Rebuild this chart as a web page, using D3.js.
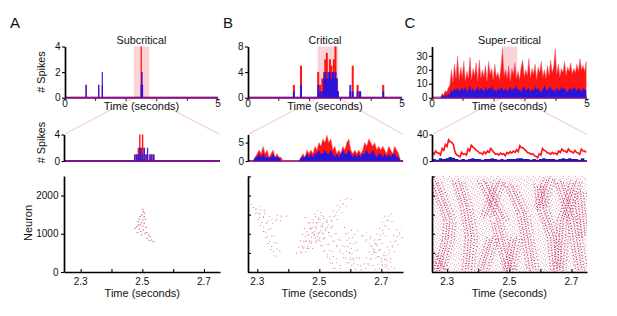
<!DOCTYPE html>
<html>
<head>
<meta charset="utf-8">
<script src="https://cdn.jsdelivr.net/npm/d3@7/dist/d3.min.js"></script>
<style>
  body { margin: 0; background: #fff; }
  svg text { font-family: "Liberation Sans", Arial, sans-serif; fill: #111; }
</style>
</head>
<body>
<script>
// ---- values ----
const panelLetters = ['A', 'B', 'C'];
const panelTitles = ['Subcritical', 'Critical', 'Super-critical'];

// time windows (seconds)
const fullWindow = [0, 5];
const zoomWindows = [[2.246, 2.752], [2.27, 2.77], [2.251, 2.75]];
const highlightWindows = [[2.25, 2.75], [2.26, 2.93], [2.25, 2.75]];

// axis ranges and ticks
const topMax = [4, 8, 36.7];
const topTicks = [[0, 2, 4], [0, 4, 8], [0, 10, 20, 30]];
const midMax = [4, 7.2, 40];
const midTicks = [[0, 4], [0, 5], [0, 40]];
const neuronMax = 2510;
const neuronLabelTicks = [0, 1000, 2000];
const neuronTicks = [0, 500, 1000, 1500, 2000, 2500];
const fullTimeTicks = [0, 1, 2, 3, 4, 5];
const fullTimeLabels = [0, 5];
const zoomTimeTicks = [2.3, 2.4, 2.5, 2.6, 2.7];
const zoomTimeLabels = [2.3, 2.5, 2.7];

// A, whole run: spike counts (excitatory red, inhibitory blue)
const aTopTime = [0.69, 1.10, 1.22, 2.49, 2.51, 2.53];
const aTopExc = [1, 1, 1, 4, 2, 1];
const aTopInh = [1, 1, 2, 1, 2, 1];

// B, whole run
const bTopTime = [1.49, 1.72, 2.28, 2.34, 2.41, 2.47, 2.51, 2.56, 2.61, 2.66, 2.71, 2.76, 2.79, 2.84, 2.88, 2.92, 3.32, 3.40, 3.56, 3.64, 4.39];
const bTopExc = [2, 5, 4, 2, 3, 4, 6, 7, 3, 6, 5, 4, 6, 8, 3, 1, 1, 5, 2, 1, 2];
const bTopInh = [1, 2, 2, 1, 1, 3, 4, 3, 4, 4, 3, 4, 3, 4, 3, 1, 2, 1, 1, 1, 1];

// C, whole run, 0.05 s bins from 0
const cTopStart = 0, cTopStep = 0.05;
const cTopExc = [
  0, 0, 0, 0, 0, 0, 3, 2, 5, 4,
  7, 9, 20, 11, 24, 14, 30, 13, 22, 15,
  26, 12, 19, 14, 29, 13, 21, 16, 25, 12,
  27, 14, 20, 15, 23, 12, 26, 17, 21, 13,
  24, 15, 18, 13, 22, 35, 16, 20, 14, 23,
  12, 21, 17, 25, 14, 19, 13, 22, 27, 15,
  20, 16, 28, 14, 21, 17, 24, 13, 22, 18,
  26, 15, 20, 14, 23, 16, 27, 18, 22, 35,
  17, 24, 15, 21, 18, 26, 16, 22, 19, 25,
  17, 21, 18, 24, 19, 28, 20, 23, 19, 26
];
const cTopInh = [
  0, 0, 0, 0, 0, 0, 2, 1, 2, 1,
  3, 2, 6, 4, 7, 5, 8, 4, 6, 7,
  5, 8, 4, 6, 9, 5, 7, 4, 6, 8,
  5, 7, 6, 4, 8, 5, 7, 6, 9, 5,
  6, 4, 7, 5, 8, 6, 5, 7, 4, 6,
  8, 5, 7, 6, 9, 5, 6, 4, 7, 8,
  5, 6, 7, 4, 6, 5, 8, 6, 7, 5,
  4, 6, 9, 6, 5, 7, 8, 5, 6, 4,
  7, 6, 5, 8, 6, 7, 5, 4, 6, 7,
  5, 8, 6, 5, 7, 6, 4, 7, 6, 5
];

// A, zoomed window
const aMidTime = [2.476, 2.482, 2.487, 2.492, 2.496, 2.501, 2.506, 2.512, 2.517, 2.525, 2.531, 2.537];
const aMidExc = [1, 1, 2, 4, 2, 4, 2, 1, 1, 1, 1, 1];
const aMidInh = [1, 1, 1, 2, 2, 1, 2, 1, 2, 1, 1, 1];

// B, zoomed window, fine bins
const bMidStart = 2.2705, bMidStep = 0.00643;
const bMidExc = [
  0, 0, 0, 1, 2, 3, 2, 4, 2, 3,
  1, 2, 3, 1, 2, 1, 1, 0, 0, 0,
  0, 0, 0, 0, 0, 0, 1, 2, 1, 3,
  2, 3, 2, 4, 3, 5, 4, 6, 5, 7,
  5, 6, 3, 4, 2, 3, 2, 4, 3, 5,
  6, 3, 2, 3, 2, 3, 2, 3, 5, 4,
  6, 5, 4, 5, 3, 4, 3, 4, 3, 2,
  4, 3, 2, 4, 3, 2, 0
];
const bMidInh = [
  0, 0, 0, 1, 1, 2, 1, 2, 1, 1,
  1, 1, 2, 1, 1, 1, 0, 0, 0, 0,
  0, 0, 0, 0, 0, 0, 1, 1, 1, 2,
  1, 2, 1, 2, 2, 3, 2, 2, 3, 2,
  2, 3, 2, 1, 2, 1, 2, 3, 2, 2,
  3, 2, 1, 2, 1, 2, 1, 2, 2, 3,
  2, 2, 3, 2, 1, 2, 2, 1, 2, 1,
  2, 1, 2, 2, 1, 1, 0
];

// C, zoomed window
const cMidStart = 2.2525, cMidStep = 0.00521;
const cMidExc = [
  13, 10, 15, 12, 12, 9, 19, 16, 25, 22, 32, 29, 28, 24, 13, 9, 8, 6, 13, 10,
  11, 9, 18, 15, 24, 21, 19, 16, 15, 12, 12, 10, 14, 11, 15, 13, 19, 16, 13, 10,
  11, 9, 12, 10, 11, 8, 13, 11, 14, 12, 15, 13, 17, 14, 23, 20, 20, 17, 15, 12,
  12, 10, 11, 8, 7, 5, 11, 9, 19, 16, 15, 12, 12, 10, 13, 11, 12, 10, 15, 13,
  18, 15, 15, 13, 18, 15, 14, 12, 16, 13, 12, 10, 18, 15, 15, 13
];
const cMidInhStep = 0.0104;
const cMidInh = [
  3, 2, 4, 3, 4, 6, 5, 3, 2, 3, 2, 3, 4, 3, 3, 2, 3, 3, 4, 3, 2, 3, 2, 3,
  3, 3, 4, 4, 3, 3, 2, 3, 2, 3, 4, 3, 3, 3, 2, 3, 4, 3, 4, 3, 3, 2, 4, 3
];

// rasters: A as single spikes [time, neuron]
const aSpikes = [
  [2.501, 1640], [2.503, 1579], [2.507, 1536], [2.498, 1492], [2.493, 1448], [2.506, 1448],
  [2.490, 1379], [2.501, 1361], [2.510, 1379], [2.487, 1318], [2.497, 1291], [2.506, 1274],
  [2.493, 1230], [2.487, 1230], [2.482, 1187], [2.501, 1204], [2.512, 1169], [2.476, 1143],
  [2.490, 1117], [2.503, 1099], [2.495, 1056], [2.484, 1030], [2.514, 1030], [2.509, 1012],
  [2.498, 969], [2.520, 969], [2.525, 925], [2.516, 881], [2.523, 820], [2.530, 838], [2.536, 794]
];
// B and C as propagating waves [t0, neuron0, t1, neuron1]
const bWaves = [
  [2.294, 1785, 2.326, 1437], [2.2995, 1700, 2.364, 436], [2.342, 1263, 2.385, 1524],
  [2.439, 480, 2.466, 1176], [2.455, 480, 2.508, 1611], [2.487, 741, 2.589, 1959],
  [2.466, 1437, 2.562, 44], [2.498, 1524, 2.605, 218], [2.594, 1176, 2.621, 44],
  [2.648, 44, 2.728, 1524], [2.691, 44, 2.768, 1176], [2.637, 1089, 2.734, 44]
];
const cWaves = [
  [2.260, 2393, 2.309, 1349], [2.309, 1349, 2.303, 827], [2.303, 827, 2.276, 44],
  [2.260, 479, 2.287, 44], [2.335, 2393, 2.362, 1697], [2.362, 1697, 2.378, 914],
  [2.378, 914, 2.368, 44], [2.416, 2393, 2.481, 1349], [2.470, 2393, 2.427, 1436],
  [2.459, 1349, 2.502, 44], [2.448, 914, 2.416, 44], [2.502, 2306, 2.545, 1523],
  [2.545, 1523, 2.577, 44], [2.524, 914, 2.502, 44], [2.599, 2306, 2.610, 1610],
  [2.610, 1610, 2.642, 914], [2.642, 914, 2.653, 44], [2.631, 2480, 2.599, 1697],
  [2.663, 2393, 2.706, 1349], [2.706, 1349, 2.733, 44], [2.717, 2393, 2.674, 1349],
  [2.674, 1349, 2.663, 44], [2.728, 2132, 2.744, 914]
];

// ---- layout ----
const colTop = [[65, 218], [248, 402], [432, 587]];
const colLow = [[64, 220], [248, 403], [432, 587]];
const letterX = [15, 228, 410];
const topY = [97.7, 46.5], midY = [161, 134.5], rasterY = [272, 176];
const RED = '#ff1414', BLUE = '#1414f0';
const fmt = d3.format('d');

const svg = d3.select('body').append('svg').attr('width', 617).attr('height', 316);

const defs = svg.append('defs');
const speck1 = defs.append('pattern').attr('id', 'speck1').attr('patternUnits', 'userSpaceOnUse')
  .attr('width', 6).attr('height', 6);
[[0, 0, '#e0406a'], [3, 1, '#c83060'], [1, 3, '#f07090'], [4, 4, '#6a5ab8'], [2, 5, '#e05a80'], [5, 2, '#d04870']]
  .forEach(p => speck1.append('rect').attr('x', p[0]).attr('y', p[1]).attr('width', 1).attr('height', 1).attr('fill', p[2]));
const speck2 = defs.append('pattern').attr('id', 'speck2').attr('patternUnits', 'userSpaceOnUse')
  .attr('width', 7).attr('height', 5);
[[1, 1, '#d83868'], [5, 0, '#ee6a8a'], [3, 3, '#c02a5a'], [6, 4, '#8a50b0']]
  .forEach(p => speck2.append('rect').attr('x', p[0]).attr('y', p[1]).attr('width', 1).attr('height', 1).attr('fill', p[2]));

// sparse events as thin bars
function histogram(g, x, y, times, exc, inh, w) {
  g.append('g').selectAll('rect').data(times).join('rect')
    .attr('x', t => x(t) - w / 2).attr('width', w)
    .attr('y', (t, k) => y(exc[k])).attr('height', (t, k) => y(0) - y(exc[k]))
    .attr('fill', RED);
  g.append('g').selectAll('rect').data(times).join('rect')
    .attr('x', t => x(t) - w / 2).attr('width', w)
    .attr('y', (t, k) => y(inh[k])).attr('height', (t, k) => y(0) - y(inh[k]))
    .attr('fill', BLUE).attr('opacity', 0.85);
}

// dense counts as spiky areas
function spikyArea(g, x, y, times, exc, inh) {
  const area = vals => d3.area().x((v, k) => x(times[k])).y0(y(0)).y1(v => y(v))(vals);
  g.append('path').attr('d', area(exc)).attr('fill', RED).attr('stroke', '#f06070').attr('stroke-width', 0.5);
  g.append('path').attr('d', area(inh)).attr('fill', BLUE).attr('opacity', 0.9);
}

function baseline(g, x, y) {
  const [x0, x1] = x.range();
  g.append('line').attr('x1', x0).attr('x2', x1).attr('y1', y(0)).attr('y2', y(0))
    .attr('stroke', RED).attr('stroke-width', 2);
  g.append('line').attr('x1', x0).attr('x2', x1).attr('y1', y(0)).attr('y2', y(0))
    .attr('stroke', BLUE).attr('stroke-width', 2).attr('opacity', 0.55);
}

function styleAxis(sel) {
  sel.select('.domain').attr('stroke', '#000').attr('stroke-width', 1.7);
  sel.selectAll('.tick line').attr('stroke', '#000').attr('stroke-width', 1.1);
  sel.selectAll('.tick text').attr('font-size', 10);
}

function waves(g, x, y, list, copies, width, op) {
  copies.forEach(c => {
    g.append('g').selectAll('line').data(list).join('line')
      .attr('x1', d => x(d[0]) + c[0]).attr('y1', d => y(d[1]) + c[1])
      .attr('x2', d => x(d[2]) + c[0]).attr('y2', d => y(d[3]) + c[1])
      .attr('stroke', c[2]).attr('stroke-width', width)
      .attr('stroke-dasharray', c[3]).attr('stroke-dashoffset', c[4])
      .attr('opacity', op);
  });
}

const cTopTime = cTopExc.map((v, k) => cTopStart + (k + 0.5) * cTopStep);
const bMidTime = bMidExc.map((v, k) => bMidStart + (k + 0.5) * bMidStep);

panelLetters.forEach((letter, i) => {
  const g = svg.append('g');
  const xT = d3.scaleLinear().domain(fullWindow).range(colTop[i]);
  const yT = d3.scaleLinear().domain([0, topMax[i]]).range(topY);
  const xM = d3.scaleLinear().domain(zoomWindows[i]).range(colLow[i]);
  const yM = d3.scaleLinear().domain([0, midMax[i]]).range(midY);
  const yR = d3.scaleLinear().domain([0, neuronMax]).range(rasterY);
  const hw = highlightWindows[i];

  // zoom connector lines
  [[hw[0], 0], [hw[1], 1]].forEach(([t, side]) => {
    g.append('line').attr('x1', xT(t)).attr('y1', topY[0])
      .attr('x2', xM.range()[side]).attr('y2', midY[1])
      .attr('stroke', '#f2d2d2').attr('stroke-width', 1.2);
  });

  g.append('text').attr('x', letterX[i]).attr('y', 28).attr('text-anchor', 'middle')
    .attr('font-size', 15).text(letter);
  g.append('text').attr('x', xT(2.5)).attr('y', 44.3).attr('text-anchor', 'middle')
    .attr('font-size', 10.8).text(panelTitles[i]);

  // ---- whole run ----
  g.append('rect').attr('x', xT(hw[0])).attr('width', xT(hw[1]) - xT(hw[0]))
    .attr('y', topY[1]).attr('height', topY[0] - topY[1])
    .attr('fill', '#f8c4c8').attr('opacity', 0.75);
  baseline(g, xT, yT);
  if (i === 0) histogram(g, xT, yT, aTopTime, aTopExc, aTopInh, 1.3);
  else if (i === 1) histogram(g, xT, yT, bTopTime, bTopExc, bTopInh, 2);
  else spikyArea(g, xT, yT, cTopTime, cTopExc, cTopInh);
  g.append('g').selectAll('line').data(fullTimeTicks).join('line')
    .attr('x1', d => xT(d)).attr('x2', d => xT(d)).attr('y1', topY[0] + 1).attr('y2', topY[0] + 3)
    .attr('stroke', '#000').attr('stroke-width', 1);
  g.append('g').selectAll('text').data(fullTimeLabels).join('text')
    .attr('x', d => xT(d)).attr('y', 106.5).attr('text-anchor', 'middle')
    .attr('font-size', 10).text(d => d);
  g.append('text').attr('x', xT(2.5)).attr('y', 109.5).attr('text-anchor', 'middle')
    .attr('font-size', 11).text('Time (seconds)');
  g.append('g').attr('transform', `translate(${colTop[i][0]},0)`)
    .call(d3.axisLeft(yT).tickValues(topTicks[i]).tickFormat(fmt).tickSize(3).tickPadding(1.5).tickSizeOuter(0))
    .call(styleAxis);

  // ---- zoomed window ----
  baseline(g, xM, yM);
  if (i === 0) {
    histogram(g, xM, yM, aMidTime, aMidExc, aMidInh, 1.4);
  } else if (i === 1) {
    spikyArea(g, xM, yM, bMidTime, bMidExc, bMidInh);
  } else {
    const area = d3.area()
      .x((v, k) => xM(cMidStart + k * cMidInhStep)).y0(yM(0)).y1(v => yM(v))
      .curve(d3.curveStepAfter);
    g.append('path').datum(cMidInh).attr('d', area).attr('fill', '#1c1ca8');
    const line = d3.line()
      .x((v, k) => xM(cMidStart + k * cMidStep)).y(v => yM(v));
    g.append('path').datum(cMidExc).attr('d', line)
      .attr('fill', 'none').attr('stroke', RED).attr('stroke-width', 1.6);
  }
  g.append('g').attr('transform', `translate(${colLow[i][0]},0)`)
    .call(d3.axisLeft(yM).tickValues(midTicks[i]).tickFormat(fmt).tickSize(2.5).tickPadding(1.5).tickSizeOuter(0))
    .call(styleAxis);

  // ---- raster ----
  const clipId = 'clip' + i;
  defs.append('clipPath').attr('id', clipId).append('rect')
    .attr('x', colLow[i][0]).attr('y', rasterY[1])
    .attr('width', colLow[i][1] - colLow[i][0]).attr('height', rasterY[0] - rasterY[1]);
  const r = g.append('g').attr('clip-path', `url(#${clipId})`);
  if (i === 0) {
    r.selectAll('rect').data(aSpikes).join('rect')
      .attr('x', d => xM(d[0]) - 0.7).attr('y', d => yR(d[1]) - 0.6)
      .attr('width', 1.5).attr('height', 1.2)
      .attr('fill', '#cf3d6b').attr('opacity', 0.7);
  } else if (i === 1) {
    waves(r, xM, yR, bWaves, [
      [-4, 0, '#d0305a', '1 5.5', 0], [-1, 2, '#c04a80', '1 4.2', 1.5],
      [2, -1, '#d85070', '1 6', 3], [5, 1, '#c84068', '1 7', 2]
    ], 1, 0.75);
  } else {
    const x0 = xM(zoomWindows[i][0]), x1 = xM(zoomWindows[i][1]);
    r.append('rect').attr('x', x0).attr('y', yR(neuronMax))
      .attr('width', x1 - x0).attr('height', yR(0) - yR(neuronMax))
      .attr('fill', 'url(#speck1)').attr('opacity', 0.32);
    r.append('rect').attr('x', x0).attr('y', yR(neuronMax))
      .attr('width', x1 - x0).attr('height', yR(0) - yR(neuronMax))
      .attr('fill', 'url(#speck2)').attr('opacity', 0.24);
    waves(r, xM, yR, cWaves, [
      [-6, 0, '#d0305a', '1 2.2', 0], [-3, 1, '#c01848', '1 1.6', 1], [0, -1, '#d81850', '1 1.3', 0.5],
      [3, 1, '#9a3a90', '1 2', 2], [6, 0, '#d85070', '1 2.4', 1.2]
    ], 1.2, 0.9);
  }
  // raster axes
  const yAxis = i === 0
    ? d3.axisLeft(yR).tickValues(neuronLabelTicks).tickFormat(fmt).tickSize(3).tickPadding(2.5).tickSizeOuter(0)
    : d3.axisRight(yR).tickValues(neuronTicks).tickSize(3).tickFormat('').tickSizeOuter(0);
  g.append('g').attr('transform', `translate(${colLow[i][0]},0)`).call(yAxis).call(styleAxis);
  g.append('g').attr('transform', `translate(0,${rasterY[0]})`)
    .call(d3.axisTop(xM).tickValues(zoomTimeTicks).tickSize(3).tickFormat('').tickSizeOuter(0))
    .call(styleAxis);
  g.append('g').selectAll('text').data(zoomTimeLabels).join('text')
    .attr('x', d => xM(d)).attr('y', 285).attr('text-anchor', 'middle')
    .attr('font-size', 10).text(d => d.toFixed(1));
  g.append('text').attr('x', xM(2.5)).attr('y', 297).attr('text-anchor', 'middle')
    .attr('font-size', 11).text('Time (seconds)');

  if (i === 0) {
    g.append('text').attr('transform', 'translate(40.5,72) rotate(-90)')
      .attr('text-anchor', 'middle').attr('dominant-baseline', 'central')
      .attr('font-size', 10.8).text('# Spikes');
    g.append('text').attr('transform', 'translate(40.5,142.5) rotate(-90)')
      .attr('text-anchor', 'middle').attr('dominant-baseline', 'central')
      .attr('font-size', 10.8).text('# Spikes');
    g.append('text').attr('transform', 'translate(28,223) rotate(-90)')
      .attr('text-anchor', 'middle').attr('dominant-baseline', 'central')
      .attr('font-size', 11).text('Neuron');
  }
});
</script>
</body>
</html>
